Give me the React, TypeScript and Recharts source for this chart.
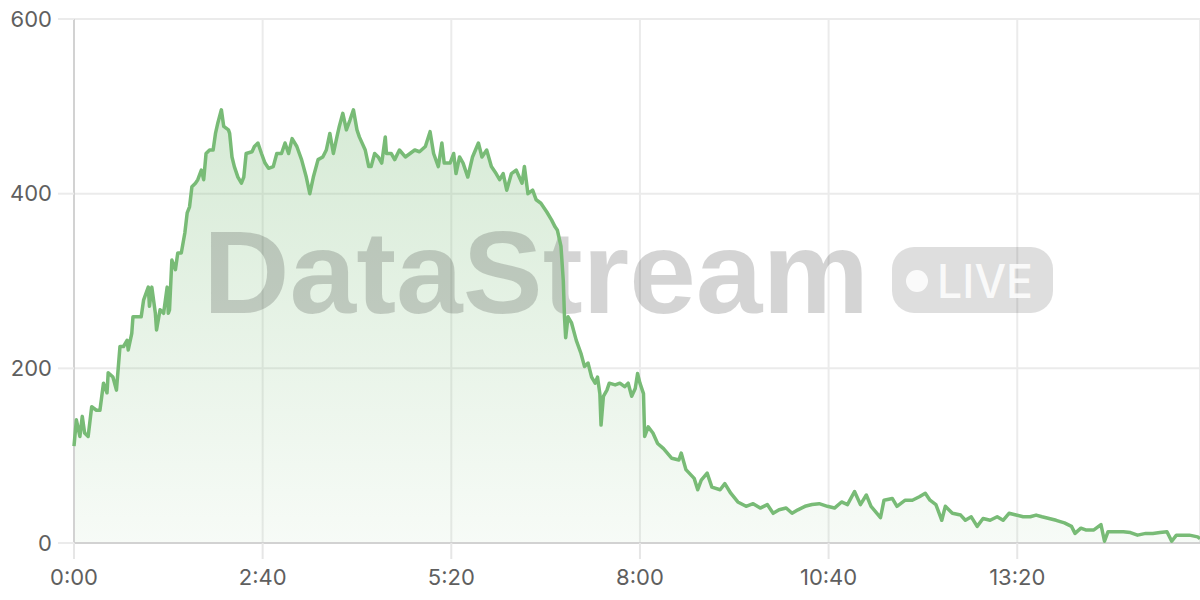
import React from 'react';
import { AreaChart, Area, LineChart, Line, XAxis, YAxis, CartesianGrid } from 'recharts';

// sample time in seconds
const seconds = [
    0, 2, 5, 7, 9, 12, 15, 19, 22, 25, 28, 29, 33, 36, 39, 42, 45, 46, 49, 50,
    53, 57, 59, 63, 64, 66, 69, 70, 73, 76, 79, 80, 81, 83, 86, 88, 91, 94, 96, 98,
    100, 103, 105, 108, 110, 112, 115, 118, 120, 122, 125, 127, 131, 132, 134, 136, 139, 142, 144, 146,
    151, 153, 156, 159, 162, 165, 169, 172, 176, 179, 182, 185, 189, 193, 197, 200, 203, 207, 211, 214,
    217, 220, 223, 225, 228, 231, 234, 237, 240, 242, 247, 250, 252, 255, 258, 261, 264, 265, 269, 272,
    276, 281, 285, 289, 293, 298, 302, 305, 309, 312, 314, 319, 322, 324, 327, 330, 334, 338, 343, 346,
    350, 354, 358, 361, 364, 367, 371, 375, 380, 382, 385, 389, 392, 396, 401, 405, 408, 410, 413, 415,
    416, 417, 419, 422, 426, 430, 433, 436, 439, 442, 444, 446, 447, 449, 452, 454, 459, 463, 467, 470,
    473, 476, 478, 480, 483, 484, 487, 491, 495, 500, 507, 513, 515, 519, 526, 529, 532, 537, 541, 548,
    552, 557, 563, 570, 576, 582, 588, 593, 598, 604, 609, 614, 620, 626, 632, 639, 645, 651, 656, 662,
    667, 672, 676, 684, 687, 694, 698, 705, 711, 717, 722, 726, 731, 736, 739, 745, 752, 756, 761, 766,
    771, 777, 783, 788, 793, 799, 805, 811, 816, 821, 827, 833, 840, 846, 849, 854, 858, 865, 871, 874,
    877, 884, 890, 896, 902, 909, 915, 921, 927, 931, 935, 940, 946, 953, 955,
];

const streamValues = [
    111, 141, 122, 145, 126, 122, 156, 152, 152, 183, 172, 195, 190, 175, 225, 225, 232, 221, 240, 259,
    259, 259, 278, 293, 271, 293, 263, 244, 267, 263, 293, 263, 267, 324, 313, 332, 332, 355, 378, 385,
    408, 412, 416, 427, 416, 446, 450, 450, 469, 481, 496, 477, 473, 469, 442, 431, 419, 412, 419, 446,
    448, 454, 458, 446, 435, 429, 431, 446, 446, 458, 446, 463, 454, 439, 419, 400, 419, 439, 442, 450,
    469, 446, 465, 477, 492, 473, 484, 496, 473, 465, 450, 431, 431, 446, 442, 435, 465, 446, 446, 439,
    450, 442, 446, 450, 448, 454, 471, 446, 431, 458, 435, 435, 446, 423, 442, 435, 419, 442, 458, 442,
    450, 431, 423, 416, 423, 404, 423, 427, 412, 431, 400, 404, 393, 389, 379, 370, 362, 358, 340, 300,
    259, 235, 259, 252, 232, 217, 202, 206, 190, 183, 190, 171, 135, 168, 175, 183, 181, 183, 179, 183,
    168, 177, 194, 183, 171, 122, 133, 126, 114, 108, 97, 95, 103, 84, 74, 61, 72, 80, 64, 61,
    68, 57, 47, 42, 45, 40, 44, 34, 38, 40, 34, 38, 42, 44, 45, 42, 40, 47, 44, 59,
    44, 55, 42, 29, 49, 51, 42, 49, 49, 53, 57, 49, 44, 26, 42, 34, 32, 26, 30, 19,
    28, 26, 30, 26, 34, 32, 30, 30, 32, 30, 28, 26, 23, 19, 11, 17, 15, 15, 21, 2,
    13, 13, 13, 12, 9, 11, 11, 12, 13, 2, 9, 9, 9, 7, 5,
];

const xTicks = [0, 160, 320, 480, 640, 800];
const yTicks = [0, 200, 400, 600];

const data = seconds.map((t, i) => ({ t, value: streamValues[i] }));

const W = 1200;
const H = 600;
const PLOT = { top: 19, left: 74, bottom: 57 };
const GREEN = '#78bb76';
const FONT = '"Liberation Sans", Arial, sans-serif';
const TICK_FONT = 'Inter, "Liberation Sans", sans-serif';

const formatTime = (s: number) => {
    const m = Math.floor(s / 60);
    const sec = s % 60;
    return `${m}:${sec < 10 ? '0' : ''}${sec}`;
};

function Watermark() {
    return (
        <svg width={W} height={H} style={{ position: 'absolute', left: 0, top: 0, pointerEvents: 'none' }}>
            <text
                x={203}
                y={313}
                fontFamily={FONT}
                fontWeight={700}
                fontSize={116}
                textLength={666}
                lengthAdjust="spacingAndGlyphs"
                fill="rgba(0,0,0,0.17)"
            >
                DataStream
            </text>
            <rect x={892} y={247} width={161} height={66} rx={22} fill="rgba(0,0,0,0.13)" />
            <circle cx={917} cy={281} r={11} fill="rgba(255,255,255,0.85)" />
            <text
                x={937}
                y={298}
                fontFamily={TICK_FONT}
                fontWeight={500}
                fontSize={47}
                textLength={96}
                lengthAdjust="spacingAndGlyphs"
                fill="rgba(255,255,255,0.85)"
            >
                LIVE
            </text>
        </svg>
    );
}

export default function App() {
    return (
        <div style={{ position: 'absolute', left: 0, top: 0, width: W, height: H, background: '#fff' }}>
            {/* grid, axes and the filled area */}
            <div style={{ position: 'absolute', left: 0, top: 0 }}>
                <AreaChart width={W} height={H} data={data} margin={{ top: PLOT.top, right: 0, bottom: 0, left: 0 }}>
                    <defs>
                        <linearGradient id="streamFill" x1="0" y1="0" x2="0" y2="1">
                            <stop offset="0%" stopColor={GREEN} stopOpacity={0.3} />
                            <stop offset="100%" stopColor={GREEN} stopOpacity={0.06} />
                        </linearGradient>
                    </defs>
                    <CartesianGrid stroke="#ebebeb" strokeWidth={2} />
                    <XAxis
                        dataKey="t"
                        type="number"
                        domain={[0, 955]}
                        ticks={xTicks}
                        tickFormatter={formatTime}
                        height={PLOT.bottom}
                        tickSize={16}
                        tickMargin={10}
                        axisLine={{ stroke: '#d2d2d2', strokeWidth: 2 }}
                        tickLine={{ stroke: '#e6e6e6', strokeWidth: 2 }}
                        tick={{ fill: '#5f5f5f', fontSize: 22, fontFamily: TICK_FONT }}
                    />
                    <YAxis
                        type="number"
                        domain={[0, 600]}
                        ticks={yTicks}
                        width={PLOT.left}
                        tickSize={16}
                        tickMargin={6}
                        axisLine={{ stroke: '#d2d2d2', strokeWidth: 2 }}
                        tickLine={{ stroke: '#ebebeb', strokeWidth: 2 }}
                        tick={{ fill: '#5f5f5f', fontSize: 22, fontFamily: TICK_FONT }}
                    />
                    <Area
                        type="linear"
                        dataKey="value"
                        stroke="none"
                        fill="url(#streamFill)"
                        fillOpacity={1}
                        isAnimationActive={false}
                    />
                </AreaChart>
            </div>

            <Watermark />

            {/* line drawn above the watermark */}
            <div style={{ position: 'absolute', left: 0, top: 0 }}>
                <LineChart
                    width={W}
                    height={H}
                    data={data}
                    margin={{ top: PLOT.top, right: 0, bottom: PLOT.bottom, left: PLOT.left }}
                >
                    <XAxis dataKey="t" type="number" domain={[0, 955]} hide />
                    <YAxis type="number" domain={[0, 600]} hide />
                    <Line
                        type="linear"
                        dataKey="value"
                        stroke={GREEN}
                        strokeWidth={3.5}
                        strokeLinejoin="round"
                        dot={false}
                        isAnimationActive={false}
                    />
                </LineChart>
            </div>
        </div>
    );
}
